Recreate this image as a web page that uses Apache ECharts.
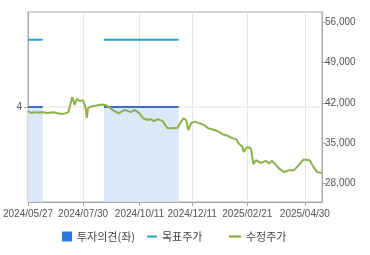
<!DOCTYPE html>
<html><head><meta charset="utf-8">
<script src="https://cdn.jsdelivr.net/npm/echarts@6/dist/echarts.min.js"></script>
<style>html,body{margin:0;padding:0;background:#fff}#c{width:370px;height:255px}</style>
</head><body><div id="c"></div>
<script>
// trading-day index of each x tick and its label
const tickIdx = [0, 45, 91, 134, 179, 226];
const tickLabels = ['2024/05/27', '2024/07/30', '2024/10/11', '2024/12/11', '2025/02/21', '2025/04/30'];
const lastIdx = 240;

// 수정주가 (adjusted price) sampled at trading-day indices
const priceIdx = [0,3,5,8,12,16,21,25,29,33,36,37,38,40,42,43,45,47,48,49,52,56,60,63,65,69,74,79,84,87,91,94,95,98,100,103,106,110,112,114,118,122,125,127,129,131,133,136,140,144,147,152,156,159,163,167,170,172,175,176,179,182,183,184,186,190,194,197,199,202,205,209,210,213,217,221,225,230,233,236,240];
const price = [40600,40250,40400,40350,40400,40250,40400,40150,40100,40400,43000,42500,41650,42700,42350,42500,42450,41100,39400,41100,41400,41550,41750,41650,41450,40800,40200,40800,40400,40800,40200,39350,39600,39050,39200,38850,39200,38850,38150,37600,37600,37700,38750,39350,39050,37300,38450,38750,38450,38150,37600,37300,37000,36550,36300,35850,35700,34950,34400,33500,34350,34100,32750,31350,32050,31600,31950,31500,31950,31350,30600,30000,29750,30300,30300,31200,32200,32050,30900,30000,29850];

// 투자의견 (opinion) periods
const opinionStart = [0, 62];
const opinionEnd = [12, 123];
const opinionValue = [4, 4];

// 목표주가 (target price) periods
const targetStart = [0, 62];
const targetEnd = [12, 123];
const targetValue = [53000, 53000];

const rightTicks = [28000, 35000, 42000, 49000, 56000];
const leftTicks = [4];

function segs(starts, ends, vals) {
  const out = [];
  for (let k = 0; k < starts.length; k++) {
    if (k > 0) out.push([(ends[k-1] + starts[k]) / 2, null]);
    out.push([starts[k], vals[k]]);
    out.push([ends[k], vals[k]]);
  }
  return out;
}

const chart = echarts.init(document.getElementById('c'));
const txt = {color: '#555', fontSize: 10, fontFamily: 'Liberation Sans, Arial, sans-serif'};
const lgTxt = {color: '#444', fontSize: 11, fontFamily: 'Noto Sans CJK KR, sans-serif'};
const linePath = 'path://M0,0 L10,0 L10,2 L0,2 Z';
chart.setOption({
  animation: false,
  grid: {left: 27, right: 48, top: 12, bottom: 53, show: true, borderColor: '#aaa', borderWidth: 1, backgroundColor: 'transparent'},
  legend: [
    {left: 62, top: 231, padding: 0, itemWidth: 10, itemHeight: 10, textStyle: lgTxt, itemGap: 0,
     data: [{name: '투자의견(좌)', icon: 'rect', itemStyle: {color: '#2a7ae2'}}]},
    {left: 147, top: 231, padding: 0, itemWidth: 10, itemHeight: 10, textStyle: lgTxt,
     data: [{name: '목표주가', icon: linePath}]},
    {left: 229, top: 231, padding: 0, itemWidth: 12, itemHeight: 10, textStyle: lgTxt,
     data: [{name: '수정주가', icon: linePath}]}
  ],
  xAxis: {
    type: 'value', min: 0, max: lastIdx,
    axisLine: {show: true, lineStyle: {color: '#aaa'}},
    axisTick: {show: true, length: 4, customValues: tickIdx, lineStyle: {color: '#aaa'}},
    axisLabel: {customValues: tickIdx, margin: 7, ...txt,
      formatter: v => tickLabels[tickIdx.indexOf(Math.round(v))] || ''},
    splitLine: {show: true, customValues: tickIdx, lineStyle: {color: '#e6e6e6'}}
  },
  yAxis: [
    {type: 'value', min: 0, max: 8, position: 'left',
     axisLine: {show: true, lineStyle: {color: '#aaa'}},
     axisTick: {show: true, length: 4, customValues: leftTicks, lineStyle: {color: '#aaa'}},
     axisLabel: {customValues: leftTicks, margin: 6, ...txt},
     splitLine: {show: false}},
    {type: 'value', min: 24800, max: 57800, position: 'right',
     axisLine: {show: true, lineStyle: {color: '#aaa'}},
     axisTick: {show: true, length: 4, customValues: rightTicks, lineStyle: {color: '#aaa'}},
     axisLabel: {customValues: rightTicks, margin: 3, ...txt,
       formatter: v => Math.round(v).toString().replace(/\B(?=(\d{3})+(?!\d))/g, ',')},
     splitLine: {show: false}}
  ],
  series: [
    {name: '투자의견(좌)', type: 'line', yAxisIndex: 0, data: segs(opinionStart, opinionEnd, opinionValue),
     symbol: 'none', connectNulls: false, lineStyle: {color: '#3a6fc1', width: 2},
     itemStyle: {color: '#2a7ae2'}, areaStyle: {color: '#dce7f7', opacity: 1}, z: 1},
    {name: 'grid4', type: 'line', yAxisIndex: 0, data: [[0, 4], [lastIdx, 4]], symbol: 'none',
     lineStyle: {color: '#e6e6e6', width: 1}, z: 0, silent: true},
    {name: '목표주가', type: 'line', yAxisIndex: 1, data: segs(targetStart, targetEnd, targetValue),
     symbol: 'none', connectNulls: false, lineStyle: {color: '#1ba8c4', width: 2}, itemStyle: {color: '#1ba8c4'}, z: 3},
    {name: '수정주가', type: 'line', yAxisIndex: 1, data: priceIdx.map((d, k) => [d, price[k]]),
     symbol: 'none', lineStyle: {color: '#8db24a', width: 2}, itemStyle: {color: '#8db24a'}, z: 4}
  ]
});
</script></body></html>
